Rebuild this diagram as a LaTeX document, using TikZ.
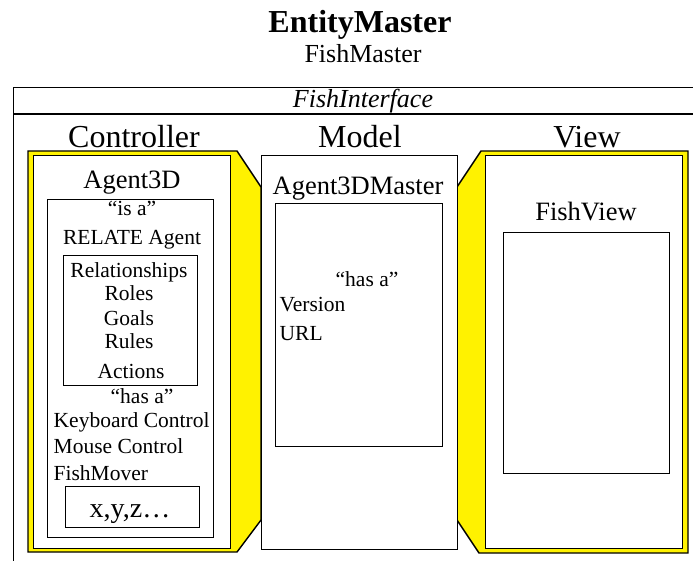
\documentclass[tikz,border=0pt]{standalone}
\usepackage{fontspec}
\setmainfont{Liberation Serif}
\begin{document}
\begin{tikzpicture}[x=1pt,y=-1pt,line width=1.4pt,
  box/.style={draw,rectangle,inner sep=0pt,anchor=north west,fill=white},
  lbl/.style={inner sep=0pt,anchor=base},
  lbll/.style={inner sep=0pt,anchor=base west},
  door/.style={draw,fill=yellow,line join=miter},
  fbig/.style={font=\fontsize{32}{36}\selectfont},
  fmid/.style={font=\fontsize{26.5}{30}\selectfont},
  fsml/.style={font=\fontsize{21.5}{24}\selectfont}]
\useasboundingbox (0,0) rectangle (693,561);
\clip (0,0) rectangle (693,561);
% titles
\node[lbl,font=\bfseries\fontsize{32}{36}\selectfont] (title) at (360,33) {EntityMaster};
\node[lbl,font=\fontsize{26}{30}\selectfont] (sub) at (363,63) {FishMaster};
% outer frame
\node[box,fill=none,minimum width=707pt,minimum height=520pt] (frame) at (13,87) {};
\draw ([yshift=-27pt]frame.north west) -- ([yshift=-27pt]frame.north east);
\node[lbl,font=\itshape\fontsize{26}{30}\selectfont] (fi) at (363,108) {FishInterface};
% column headers
\node[lbl,fbig] (hc) at (134,148) {Controller};
\node[lbl,fbig] (hm) at (360,148) {Model};
\node[lbl,fbig] (hv) at (587,148) {View};
% yellow doors
\draw[door] (28,151) -- (237,151) -- (261,187) -- (261,520) -- (237,552) -- (28,552) -- cycle;
\draw[door] (481,151) -- (688,151) -- (688,553) -- (479,553) -- (457,520) -- (457,187) -- cycle;
% controller
\node[box,minimum width=197pt,minimum height=393pt] (cbox) at (33,155) {};
\node[lbl,fmid] (agent) at (132,189) {Agent3D};
\node[box,minimum width=166pt,minimum height=338pt] (abox) at (47,199) {};
\node[lbl,fsml] (isa) at (132,216) {“is a”};
\node[lbl,fsml] (relate) at (132,245) {RELATE Agent};
\node[box,minimum width=134pt,minimum height=130pt] (rbox) at (63,255) {};
\node[lbl,fsml] (rel) at (129,277) {Relationships};
\node[lbl,fsml] (roles) at (129,301) {Roles};
\node[lbl,fsml] (goals) at (129,325) {Goals};
\node[lbl,fsml] (rules) at (129,348) {Rules};
\node[lbl,fsml] (actions) at (131,378) {Actions};
\node[lbl,fsml] (hasa) at (142,403) {“has a”};
\node[lbll,fsml] (kb) at (53,427) {Keyboard Control};
\node[lbll,fsml] (mc) at (53,453) {Mouse Control};
\node[lbll,fsml] (fm) at (53,480) {FishMover};
\node[box,minimum width=134pt,minimum height=41pt] (xbox) at (65,486) {};
\node[lbl,font=\fontsize{28}{32}\selectfont] (xyz) at (130,517) {x,y,z…};
% model
\node[box,minimum width=196pt,minimum height=394pt] (mbox) at (261,155) {};
\node[lbl,fmid] (a3m) at (358,195) {Agent3DMaster};
\node[box,minimum width=167pt,minimum height=243pt] (mibox) at (275,203) {};
\node[lbl,fsml] (mhasa) at (367,287) {“has a”};
\node[lbll,fsml] (ver) at (279,311) {Version};
\node[lbll,fsml] (url) at (279,340) {URL};
% view
\node[box,minimum width=197pt,minimum height=393pt] (vbox) at (485,155) {};
\node[lbl,fmid] (fv) at (586,221) {FishView};
\node[box,minimum width=166pt,minimum height=241pt] (vibox) at (503,232) {};
\end{tikzpicture}
\end{document}
